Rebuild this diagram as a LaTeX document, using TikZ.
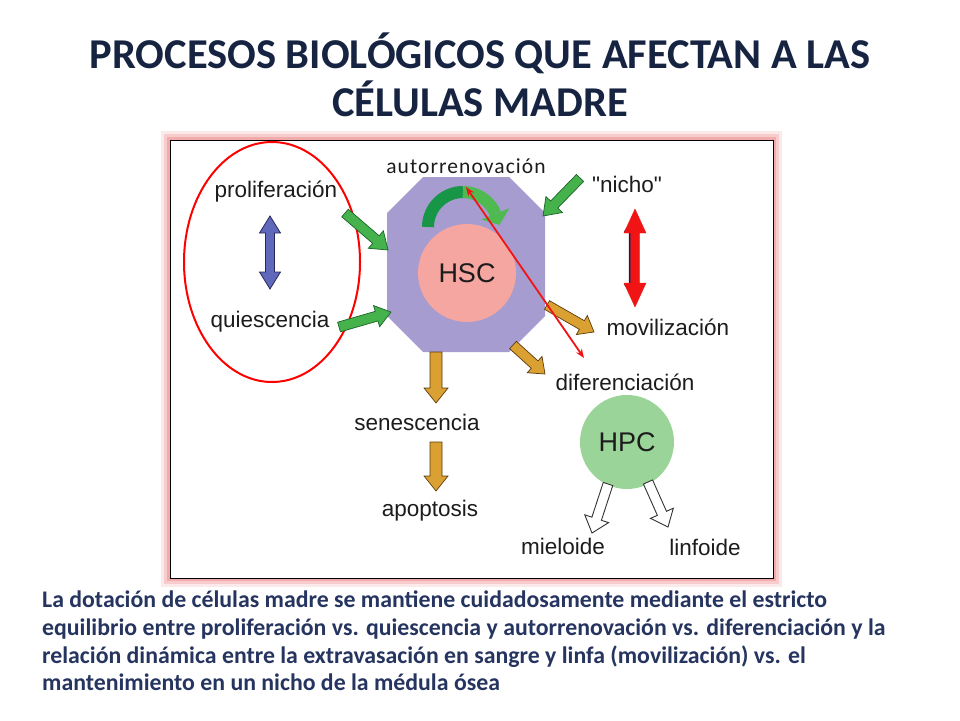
\documentclass[tikz,border=0pt]{standalone}
\usepackage{fontspec}
\setmainfont{Carlito}
\newfontfamily\lab{Liberation Sans}
\usetikzlibrary{arrows.meta,calc}
\definecolor{octcol}{RGB}{166,156,208}
\definecolor{hsccol}{RGB}{245,166,160}
\definecolor{hpccol}{RGB}{155,212,152}
\definecolor{grnfill}{RGB}{70,178,76}
\definecolor{grnline}{RGB}{25,100,40}
\definecolor{grndark}{RGB}{22,150,70}
\definecolor{grnlight}{RGB}{78,186,80}
\definecolor{orgfill}{RGB}{218,160,50}
\definecolor{orgline}{RGB}{90,60,15}
\definecolor{bluefill}{RGB}{96,104,188}
\definecolor{blueline}{RGB}{40,40,90}
\definecolor{navy}{RGB}{20,30,90}
\definecolor{redarr}{RGB}{240,20,20}
\definecolor{titlecol}{RGB}{22,36,66}
\definecolor{capcol}{RGB}{38,52,96}
\definecolor{labcol}{RGB}{28,28,28}
\definecolor{glow}{RGB}{240,150,150}
\makeatletter
\newcommand\getvec[2]{%
  \pgfpointdiff{\pgfpointanchor{#1}{center}}{\pgfpointanchor{#2}{center}}%
  \edef\vdx{\strip@pt\pgf@x}\edef\vdy{\strip@pt\pgf@y}%
  \pgfmathsetmacro\vang{atan2(\vdy,\vdx)}%
  \pgfmathsetmacro\vlen{veclen(\vdx,\vdy)}}
\makeatother
% single block arrow: from, to, shaft width, head width, head length, style
\newcommand\blkarrow[6]{%
  \getvec{#1}{#2}%
  \begin{scope}[shift={(#1)},rotate=\vang,x=1pt,y=1pt]
    \draw[#6] (0,{-#3/2}) -- ({\vlen-#5},{-#3/2}) -- ({\vlen-#5},{-#4/2}) -- (\vlen,0)
      -- ({\vlen-#5},{#4/2}) -- ({\vlen-#5},{#3/2}) -- (0,{#3/2}) -- cycle;
  \end{scope}}
% double block arrow
\newcommand\dblarrow[6]{%
  \getvec{#1}{#2}%
  \begin{scope}[shift={(#1)},rotate=\vang,x=1pt,y=1pt]
    \draw[#6] (0,0) -- (#5,{#4/2}) -- (#5,{#3/2}) -- ({\vlen-#5},{#3/2}) -- ({\vlen-#5},{#4/2})
      -- (\vlen,0) -- ({\vlen-#5},{-#4/2}) -- ({\vlen-#5},{-#3/2}) -- (#5,{-#3/2}) -- (#5,{-#4/2}) -- cycle;
  \end{scope}}
\tikzset{
  lbl/.style={font=\lab\fontsize{22.5}{26}\selectfont, text=labcol, inner sep=0pt},
  cell/.style={circle, inner sep=0pt, font=\lab\fontsize{27}{30}\selectfont, text=labcol},
  grnarr/.style={fill=grnfill, draw=grnline, line width=0.7pt, line join=miter},
  orgarr/.style={fill=orgfill, draw=orgline, line width=0.7pt, line join=miter},
  whtarr/.style={fill=white, draw=black!80, line width=0.9pt, line join=miter},
  titlefont/.style={font=\fontsize{42.5}{48}\bfseries\selectfont, inner sep=0pt, anchor=base},
  capfont/.style={font=\fontsize{23.8}{28}\bfseries\selectfont, inner sep=0pt, anchor=base west},
}
\begin{document}
\begin{tikzpicture}[x=1pt,y=-1pt]
\useasboundingbox (0,0) rectangle (960,720);
\fill[white] (0,0) rectangle (960,720);
% ---------- title ----------
\node[titlefont, text=titlecol] (t1) at (480,68) {PROCESOS BIOLÓGICOS QUE AFECTAN A LAS};
\node[titlefont, text=titlecol] (t2) at (480,116) {CÉLULAS MADRE};
% ---------- frame ----------
\fill[glow, opacity=0.2] (161,131) rectangle (782,587);
\fill[glow, opacity=0.35] (164,134) rectangle (779,584);
\fill[glow, opacity=0.6] (167,137) rectangle (776,581);
\draw[black, line width=1pt, fill=white] (170,140) rectangle (773,578);
% ---------- coordinates ----------
\coordinate (pA1) at (345,213); \coordinate (pA2) at (388,250);
\coordinate (qA1) at (339,327); \coordinate (qA2) at (391,312);
\coordinate (nA1) at (580,178); \coordinate (nA2) at (543,216);
\coordinate (mA1) at (547,305); \coordinate (mA2) at (594,332);
\coordinate (dA1) at (513,345); \coordinate (dA2) at (545,374);
\coordinate (sA1) at (436,352); \coordinate (sA2) at (436,403);
\coordinate (aA1) at (436,442); \coordinate (aA2) at (436,491);
\coordinate (mlA1) at (608,484); \coordinate (mlA2) at (592,533);
\coordinate (lfA1) at (648,482); \coordinate (lfA2) at (668,527);
\coordinate (bd1) at (270,216); \coordinate (bd2) at (270,289);
\coordinate (rd1) at (635,209); \coordinate (rd2) at (635,307);
\coordinate (nd1) at (631,222); \coordinate (nd2) at (631,294);
\coordinate (rl1) at (584,358); \coordinate (rl2) at (466,187);
\coordinate (cen) at (463,227);
% ---------- octagon ----------
\fill[octcol] (423,177) -- (509,177) -- (545,213) -- (545,316) -- (509,352) -- (423,352) -- (387,316) -- (387,213) -- cycle;
% self-renewal curved arrow
\draw[grndark, line width=12pt] ([shift={(cen)}]-180:35) arc[start angle=-180, end angle=-90, radius=35];
\draw[grnlight, line width=12pt] ([shift={(cen)}]-90:35) arc[start angle=-90, end angle=-22, radius=35];
\fill[grnlight] ([shift={(cen)}]-22:20) -- ([shift={(cen)}]-22:50) -- ($([shift={(cen)}]-22:35)+(4,11)$) -- cycle;
% HSC cell
\node[cell, fill=hsccol, minimum size=98pt] (hsc) at (467,273) {HSC};
% ---------- left group ----------
\draw[red, line width=2pt] (272,262) ellipse [x radius=88, y radius=120];
\node[lbl] (prolif) at (276,192) {proliferación};
\node[lbl] (quies) at (270,322) {quiescencia};
\dblarrow{bd1}{bd2}{9}{21}{17}{fill=bluefill, draw=blueline, line width=0.8pt, line join=miter}
\blkarrow{pA1}{pA2}{10}{23}{16}{grnarr}
\blkarrow{qA1}{qA2}{10}{22}{15}{grnarr}
% ---------- right group ----------
\node[lbl] (nicho) at (627,184) {"nicho"};
\blkarrow{nA1}{nA2}{10}{23}{16}{grnarr}
\dblarrow{nd1}{nd2}{4}{14}{10}{fill=navy, draw=navy}
\dblarrow{rd1}{rd2}{9}{22}{24}{fill=redarr, draw=redarr}
\node[lbl] (moviliz) at (668,327) {movilización};
\node[lbl] (difer) at (625,382) {diferenciación};
\blkarrow{mA1}{mA2}{10}{22}{14}{orgarr}
\blkarrow{dA1}{dA2}{10}{22}{14}{orgarr}
% ---------- bottom ----------
\blkarrow{sA1}{sA2}{12}{24}{15}{orgarr}
\node[lbl] (senes) at (417,422) {senescencia};
\blkarrow{aA1}{aA2}{12}{24}{15}{orgarr}
\node[lbl] (apop) at (430,511) {apoptosis};
\node[cell, fill=hpccol, minimum size=94pt] (hpc) at (627,442) {HPC};
\blkarrow{mlA1}{mlA2}{10}{25}{15}{whtarr}
\blkarrow{lfA1}{lfA2}{10}{25}{15}{whtarr}
\node[lbl] (mielo) at (563,546) {mieloide};
\node[lbl] (linfo) at (705,547) {linfoide};
% ---------- autorrenovacion ----------
\node[inner sep=0pt, text=labcol, font=\fontsize{21.5}{24}\selectfont\addfontfeatures{LetterSpace=5}] (autor) at (466,166) {autorrenovación};
\draw[redarr, line width=1.8pt, {Stealth[length=9pt,width=7pt]}-{Stealth[length=9pt,width=7pt]}] (rl1) -- (rl2);
% ---------- caption ----------
\foreach \i/\yy/\txt in {1/607/{La dotación de células madre se mantiene cuidadosamente mediante el estricto},
  2/635/{equilibrio entre proliferación vs. quiescencia y autorrenovación vs. diferenciación y la},
  3/663/{relación dinámica entre la extravasación en sangre y linfa (movilización) vs. el},
  4/690/{mantenimiento en un nicho de la médula ósea}}{
  \node[capfont, text=capcol] (cap\i) at (42,\yy) {\txt};
}
\end{tikzpicture}
\end{document}
